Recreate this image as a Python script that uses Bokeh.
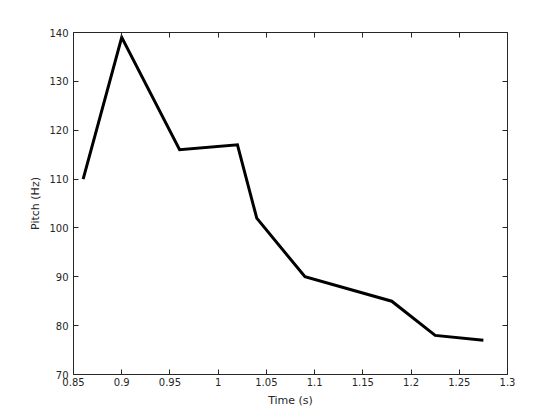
from bokeh.plotting import figure
from bokeh.models import Range1d, LinearAxis, FixedTicker
from bokeh.embed import file_html
from bokeh.resources import INLINE

time_s = [0.86, 0.90, 0.96, 1.02, 1.04, 1.09, 1.18, 1.225, 1.275]
pitch_hz = [110, 139, 116, 117, 102, 90, 85, 78, 77]

x_ticks = [0.85, 0.9, 0.95, 1.0, 1.05, 1.1, 1.15, 1.2, 1.25, 1.3]
x_tick_labels = ["0.85", "0.9", "0.95", "1", "1.05", "1.1", "1.15", "1.2", "1.25", "1.3"]
y_ticks = [70, 80, 90, 100, 110, 120, 130, 140]
y_tick_labels = ["70", "80", "90", "100", "110", "120", "130", "140"]

AX = "#262626"
FONT = "DejaVu Sans"

p = figure(width=552, height=412, output_backend="svg", toolbar_location=None,
           x_range=Range1d(0.85, 1.3), y_range=Range1d(70, 140),
           x_axis_label="Time (s)", y_axis_label="Pitch (Hz)")
p.min_border_left = 73
p.min_border_right = 45
p.min_border_top = 32
p.min_border_bottom = 38
p.outline_line_color = None
p.grid.visible = False
p.background_fill_color = "white"
p.border_fill_color = "white"

def style(ax, ticks, labels, show_labels=True):
    ax.ticker = FixedTicker(ticks=ticks)
    ax.major_label_overrides = {t: l for t, l in zip(ticks, labels)}
    ax.major_tick_in = 5
    ax.major_tick_out = 0
    ax.minor_tick_in = 0
    ax.minor_tick_out = 0
    ax.axis_line_color = AX
    ax.major_tick_line_color = AX
    ax.major_label_text_color = AX if show_labels else None
    ax.major_label_text_font = FONT
    ax.major_label_text_font_size = "10px"
    ax.major_label_standoff = 3
    ax.axis_label_text_font = FONT
    ax.axis_label_text_font_size = "11px"
    ax.axis_label_text_font_style = "normal"
    ax.axis_label_text_color = AX

style(p.xaxis[0], x_ticks, x_tick_labels)
style(p.yaxis[0], y_ticks, y_tick_labels)
p.xaxis[0].axis_label_standoff = 5
p.yaxis[0].axis_label_standoff = 4
p.yaxis[0].major_label_standoff = 5

top = LinearAxis()
style(top, x_ticks, x_tick_labels, show_labels=False)
p.add_layout(top, "above")
right = LinearAxis()
style(right, y_ticks, y_tick_labels, show_labels=False)
p.add_layout(right, "right")

p.line(time_s, pitch_hz, line_color="black", line_width=3, line_join="miter")

open("out.html", "w").write(file_html(p, INLINE))
